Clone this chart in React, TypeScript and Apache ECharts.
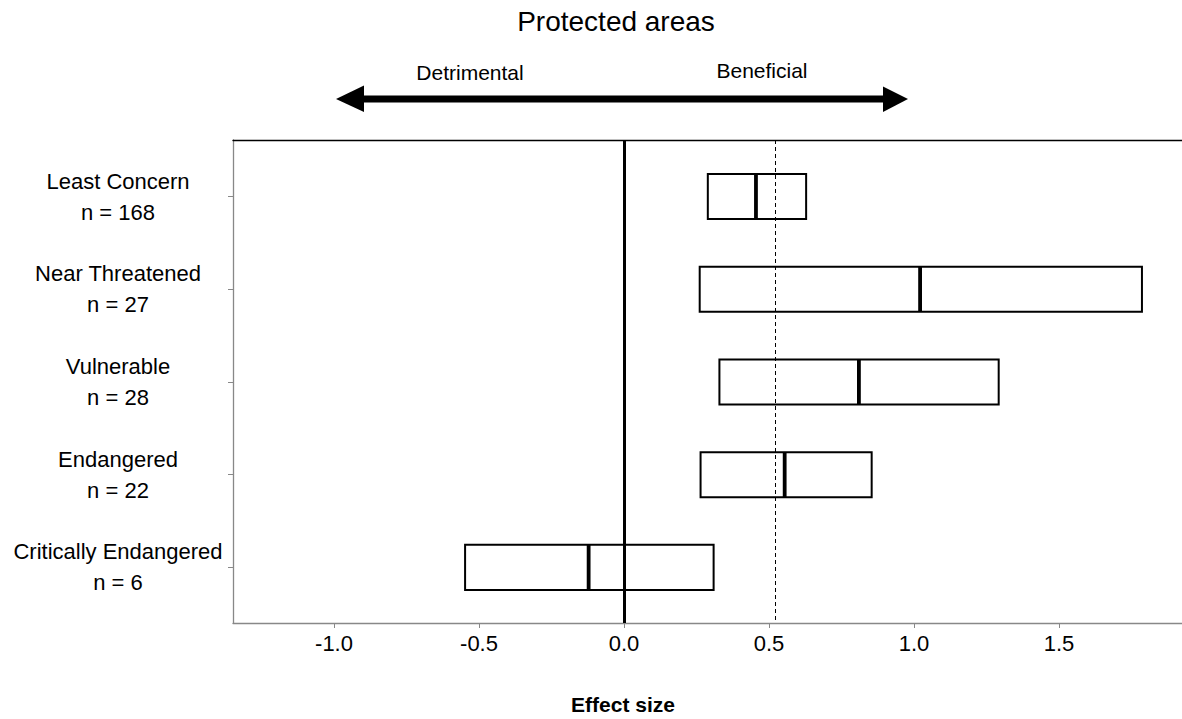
import React, { useEffect, useRef } from "react";
import * as echarts from "echarts";

const CATEGORIES = ["Least Concern", "Near Threatened", "Vulnerable", "Endangered", "Critically Endangered"];
const SAMPLE_N = [168, 27, 28, 22, 6];
const LOWER = [0.289, 0.261, 0.329, 0.264, -0.548];
const MEDIAN = [0.455, 1.021, 0.81, 0.554, -0.122];
const UPPER = [0.628, 1.786, 1.292, 0.854, 0.309];
const OVERALL_MEAN = 0.516;
const X_TICKS = [-1.0, -0.5, 0.0, 0.5, 1.0, 1.5];
const Y_POSITIONS = [1, 2, 3, 4, 5];

const FONT = "'Liberation Sans', Arial, Helvetica, sans-serif";

export default function App() {
  const ref = useRef<HTMLDivElement>(null);
  useEffect(() => {
    if (!ref.current) return;
    const chart = echarts.init(ref.current, undefined, { renderer: "svg" });
    const data = CATEGORIES.map((_, i) => [Y_POSITIONS[i], LOWER[i], MEDIAN[i], UPPER[i]]);
    const HALF = 0.243;
    const option: any = {
      animation: false,
      backgroundColor: "#ffffff",
      textStyle: { fontFamily: FONT },
      grid: { left: 233, top: 140, width: 949, height: 483, containLabel: false },
      xAxis: [
        {
          type: "value",
          min: -1.3483,
          max: 1.9241,
          position: "bottom",
          axisLine: { show: true, onZero: false, lineStyle: { color: "#888888", width: 1.3 } },
          axisTick: { show: true, length: 5, customValues: X_TICKS, lineStyle: { color: "#888888", width: 1 } },
          axisLabel: {
            customValues: X_TICKS,
            formatter: (v: number) => v.toFixed(1),
            color: "#000",
            fontSize: 22,
            fontFamily: FONT,
            margin: 9,
          },
          splitLine: { show: false },
        },
        {
          type: "value",
          min: -1.3483,
          max: 1.9241,
          position: "top",
          axisLine: { show: true, onZero: false, lineStyle: { color: "#000000", width: 1.3 } },
          axisTick: { show: false },
          axisLabel: { show: false },
          splitLine: { show: false },
        },
      ],
      yAxis: {
        type: "value",
        inverse: true,
        min: 0.39,
        max: 5.6,
        position: "left",
        axisLine: { show: true, onZero: false, lineStyle: { color: "#888888", width: 1.3 } },
        axisTick: { show: true, length: 5, customValues: Y_POSITIONS, lineStyle: { color: "#888888", width: 1 } },
        axisLabel: {
          customValues: Y_POSITIONS,
          formatter: (v: number) => {
            const i = Math.round(v) - 1;
            return CATEGORIES[i] + "\nn = " + SAMPLE_N[i];
          },
          align: "center",
          margin: 115,
          color: "#000",
          fontSize: 22,
          lineHeight: 31,
          fontFamily: FONT,
        },
        splitLine: { show: false },
      },
      series: [
        {
          type: "custom",
          xAxisIndex: 0,
          renderItem: (params: any, api: any) => {
            const y = api.value(0);
            const lo = api.value(1);
            const med = api.value(2);
            const hi = api.value(3);
            const p1 = api.coord([lo, y - HALF]);
            const p2 = api.coord([hi, y + HALF]);
            const m1 = api.coord([med, y - HALF]);
            const m2 = api.coord([med, y + HALF]);
            return {
              type: "group",
              children: [
                {
                  type: "rect",
                  shape: { x: p1[0], y: p1[1], width: p2[0] - p1[0], height: p2[1] - p1[1] },
                  style: { fill: "none", stroke: "#000", lineWidth: 2 },
                },
                {
                  type: "line",
                  shape: { x1: m1[0], y1: m1[1], x2: m2[0], y2: m2[1] },
                  style: { stroke: "#000", lineWidth: 3.8 },
                },
              ],
            };
          },
          encode: { x: [1, 2, 3], y: 0 },
          data,
          z: 3,
          markLine: {
            silent: true,
            symbol: "none",
            label: { show: false },
            data: [
              { xAxis: 0, lineStyle: { color: "#000", width: 3, type: "solid" } },
              { xAxis: OVERALL_MEAN, lineStyle: { color: "#000", width: 1, type: [4, 3] } },
            ],
          },
        },
      ],
      graphic: [
        {
          type: "text",
          x: 616,
          y: 21,
          style: {
            text: "Protected areas",
            fontSize: 28,
            fontFamily: FONT,
            fill: "#000",
            align: "center",
            verticalAlign: "middle",
          },
        },
        {
          type: "text",
          x: 470,
          y: 72,
          style: {
            text: "Detrimental",
            fontSize: 21,
            fontFamily: FONT,
            fill: "#000",
            align: "center",
            verticalAlign: "middle",
          },
        },
        {
          type: "text",
          x: 762,
          y: 70,
          style: {
            text: "Beneficial",
            fontSize: 21,
            fontFamily: FONT,
            fill: "#000",
            align: "center",
            verticalAlign: "middle",
          },
        },
        {
          type: "line",
          shape: { x1: 360, y1: 99, x2: 888, y2: 99 },
          style: { stroke: "#000", lineWidth: 7 },
        },
        {
          type: "polygon",
          shape: { points: [[336, 99], [364, 85.5], [364, 112]] },
          style: { fill: "#000" },
        },
        {
          type: "polygon",
          shape: { points: [[908, 99], [883, 86.5], [883, 112]] },
          style: { fill: "#000" },
        },
        {
          type: "text",
          x: 623,
          y: 704,
          style: {
            text: "Effect size",
            fontSize: 21,
            fontWeight: "bold",
            fontFamily: FONT,
            fill: "#000",
            align: "center",
            verticalAlign: "middle",
          },
        },
      ],
    };
    chart.setOption(option);
    return () => chart.dispose();
  }, []);
  return (
    <div
      ref={ref}
      style={{ position: "fixed", left: 0, top: 0, width: 1182, height: 719, background: "#fff" }}
    />
  );
}
